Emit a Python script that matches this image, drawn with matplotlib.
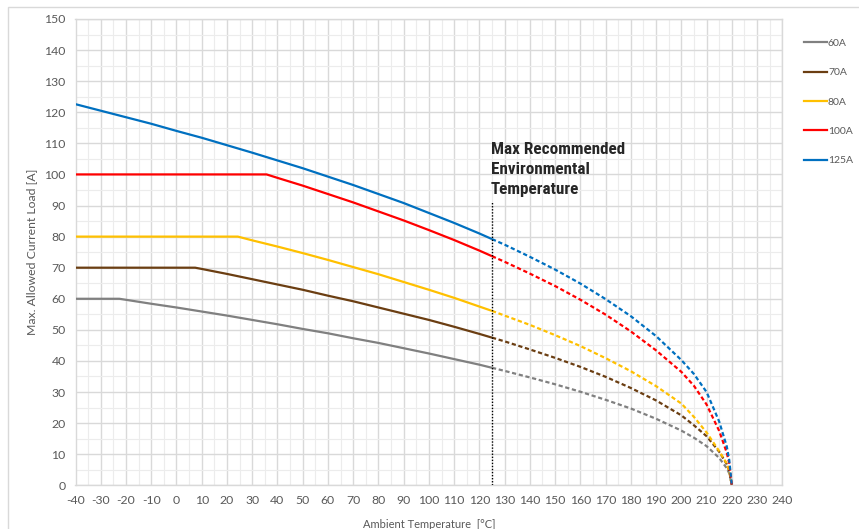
import matplotlib
matplotlib.use("Agg")
import matplotlib.pyplot as plt
import numpy as np
from matplotlib.patches import Rectangle
from matplotlib.lines import Line2D

plt.rcParams['font.family'] = ['Lato', 'DejaVu Sans']
plt.rcParams['axes.unicode_minus'] = False

# ---- data ----
series_names = ["60A", "70A", "80A", "100A", "125A"]
series_colors = ["#808080", "#6b3e12", "#ffc000", "#ff0000", "#0070c0"]

temps_60 = [-40, -22.6, -10, 0, 10, 20, 30, 40, 50, 60, 70, 80, 90, 100, 110, 120,
            125, 130, 140, 150, 160, 170, 180, 190, 200, 205, 210, 215, 218, 219, 220]
load_60 = [60, 60, 58.4, 57.2, 55.9, 54.6, 53.2, 51.8, 50.3, 48.9, 47.3, 45.8, 44.1, 42.4, 40.6, 38.8,
           37.8, 36.8, 34.7, 32.5, 30.1, 27.5, 24.7, 21.4, 17.6, 15.3, 12.6, 8.8, 5.5, 3.8, 0]

temps_70 = [-40, 7.4, 10, 20, 30, 40, 50, 60, 70, 80, 90, 100, 110, 120,
            125, 130, 140, 150, 160, 170, 180, 190, 200, 205, 210, 215, 218, 219, 220]
load_70 = [70, 70, 69.6, 68.0, 66.3, 64.6, 62.9, 61.0, 59.2, 57.2, 55.2, 53.2, 51.0, 48.7,
           47.5, 46.3, 43.7, 41.0, 38.1, 34.9, 31.3, 27.3, 22.5, 19.3, 15.8, 10.8, 6.8, 4.5, 0]

temps_80 = [-40, 24.3, 30, 40, 50, 60, 70, 80, 90, 100, 110, 120,
            125, 130, 140, 150, 160, 170, 180, 190, 200, 205, 210, 215, 218, 219, 220]
load_80 = [80, 80, 78.8, 76.8, 74.7, 72.5, 70.2, 67.9, 65.4, 62.9, 60.3, 57.5,
           56.1, 54.6, 51.6, 48.3, 44.8, 40.9, 36.7, 31.9, 26.3, 22.0, 17.0, 11.0, 7.0, 4.5, 0]

temps_100 = [-40, 35.7, 40, 50, 60, 70, 80, 90, 100, 110, 120,
             125, 130, 140, 150, 160, 170, 180, 190, 200, 205, 210, 215, 218, 219, 220]
load_100 = [100, 100, 98.9, 96.4, 93.7, 91.0, 88.1, 85.2, 82.1, 78.9, 75.5,
            73.7, 71.9, 68.1, 64.1, 59.7, 54.9, 49.5, 43.4, 36.5, 32.0, 26.0, 17.5, 10.5, 7.0, 0]

temps_125 = [-40, -30, -20, -10, 0, 10, 20, 30, 40, 50, 60, 70, 80, 90, 100, 110, 120,
             125, 130, 140, 150, 160, 170, 180, 190, 200, 205, 210, 215, 218, 219, 220]
load_125 = [122.6, 120.5, 118.4, 116.3, 114.0, 111.8, 109.4, 107.0, 104.5, 102.0, 99.3, 96.6, 93.7, 90.8, 87.6, 84.4, 81.0,
            79.2, 77.4, 73.5, 69.4, 64.9, 59.9, 54.4, 48.0, 40.3, 35.8, 30.0, 20.5, 12.5, 8.0, 0]

max_recommended_temp = 125
marker_line_top = 91
annotation_text = "Max Recommended\nEnvironmental\nTemperature"
x_label = "Ambient Temperature  [°C]"
y_label = "Max. Allowed Current Load [A]"

all_temps = [temps_60, temps_70, temps_80, temps_100, temps_125]
all_loads = [load_60, load_70, load_80, load_100, load_125]

# ---- figure ----
W, H = 859, 529
fig = plt.figure(figsize=(W / 100, H / 100), dpi=100)
fig.patch.set_facecolor("white")

# chart border (Excel chart area)
fig.patches.append(Rectangle((8 / W, -0.1), 1.2, 1 - 7 / H + 0.1, transform=fig.transFigure,
                             fill=False, edgecolor="#d9d9d9", linewidth=1.0))

left, right, top, bottom = 75.5, 782.3, 19.0, 485.3
ax = fig.add_axes([left / W, 1 - bottom / H, (right - left) / W, (bottom - top) / H])

ax.set_xlim(-40, 240)
ax.set_ylim(0, 150)
ax.set_xticks(np.arange(-40, 241, 10))
ax.set_yticks(np.arange(0, 151, 10))
ax.set_xticks(np.arange(-35, 241, 10), minor=True)
ax.set_yticks(np.arange(5, 151, 10), minor=True)
ax.grid(which="major", color="#d9d9d9", linewidth=1.0)
ax.grid(which="minor", color="#ececec", linewidth=0.8)
ax.set_axisbelow(True)
for s in ax.spines.values():
    s.set_color("#d9d9d9")
    s.set_linewidth(1.0)
ax.tick_params(which="both", length=0, labelsize=8.8, labelcolor="#595959", pad=7)

for name, color, t, v in zip(series_names, series_colors, all_temps, all_loads):
    t = np.array(t, dtype=float)
    v = np.array(v, dtype=float)
    solid = t <= max_recommended_temp
    dashed = t >= max_recommended_temp
    ax.plot(t[solid], v[solid], color=color, linewidth=1.6, solid_capstyle="butt", zorder=3)
    ax.plot(t[dashed], v[dashed], color=color, linewidth=1.6, linestyle=(0, (1.9, 1.2)),
            dash_capstyle="butt", zorder=3)

ax.plot([max_recommended_temp, max_recommended_temp], [0, marker_line_top], color="black",
        linewidth=1.0, linestyle=(0, (1, 1.2)), zorder=4)

ax.text(124.6, 110.3, annotation_text, ha="left", va="top", fontsize=12.3, fontweight="bold",
        color="#262626", linespacing=1.42,
        family=["Roboto Condensed", "Lato", "DejaVu Sans"], zorder=5)

ax.set_xlabel(x_label, fontsize=8.0, color="#595959", labelpad=9)
ax.set_ylabel(y_label, fontsize=8.8, color="#595959", labelpad=5)

handles = [Line2D([0], [0], color=c, linewidth=1.6) for c in series_colors]
fig.legend(handles, series_names, loc="upper left", bbox_to_anchor=(804 / W, 1 - 38.5 / H),
           frameon=False, fontsize=7.5, labelcolor="#595959", handlelength=2.2,
           handletextpad=0.1, labelspacing=1.93, borderpad=0, borderaxespad=0)

fig.savefig("out.png", dpi=100)
